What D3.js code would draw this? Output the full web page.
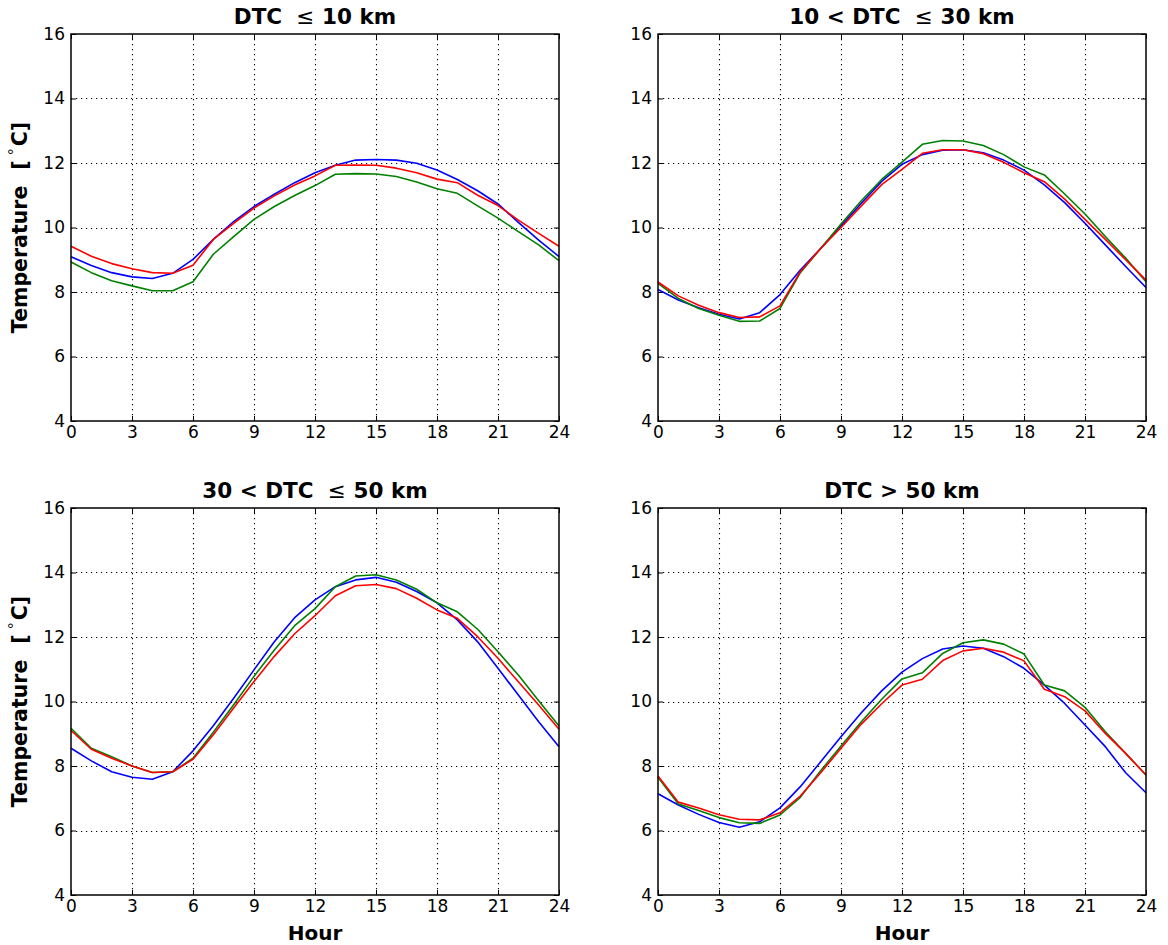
<!DOCTYPE html>
<html>
<head>
<meta charset="utf-8">
<script src="https://cdn.jsdelivr.net/npm/d3@7"></script>
<style>
  html, body { margin: 0; padding: 0; background: #ffffff; }
  svg { display: block; font-family: "DejaVu Sans", sans-serif; }
</style>
</head>
<body>
<svg id="chart" width="1168" height="945"></svg>
<script>
// Hourly mean temperature (°C) by distance to coast (DTC) class
const hours = d3.range(0, 25);
const xTicks = [0, 3, 6, 9, 12, 15, 18, 21, 24];
const yTicks = [4, 6, 8, 10, 12, 14, 16];

const panelTitles = [
  ["DTC", "≤", "10 km"],
  ["10 < DTC", "≤", "30 km"],
  ["30 < DTC", "≤", "50 km"],
  ["DTC > 50 km", "", ""]
];

// DTC <= 10 km
const p1Blue  = [9.09,8.82,8.60,8.47,8.42,8.58,9.01,9.63,10.18,10.65,11.03,11.39,11.70,11.93,12.09,12.11,12.09,11.99,11.78,11.49,11.14,10.73,10.16,9.61,9.10];
const p1Green = [8.93,8.60,8.35,8.19,8.04,8.04,8.32,9.17,9.72,10.25,10.65,10.99,11.30,11.65,11.67,11.66,11.58,11.41,11.20,11.06,10.67,10.29,9.87,9.46,8.97];
const p1Red   = [9.42,9.11,8.88,8.72,8.60,8.58,8.83,9.63,10.13,10.60,10.98,11.32,11.60,11.93,11.94,11.93,11.84,11.70,11.50,11.39,11.00,10.68,10.23,9.82,9.42];

// 10 < DTC <= 30 km
const p2Blue  = [8.08,7.75,7.51,7.31,7.16,7.36,7.92,8.68,9.35,10.05,10.75,11.43,11.96,12.26,12.40,12.41,12.32,12.09,11.78,11.32,10.77,10.13,9.46,8.79,8.14];
const p2Green = [8.27,7.80,7.49,7.28,7.09,7.10,7.49,8.60,9.35,10.11,10.83,11.49,12.03,12.58,12.70,12.68,12.54,12.26,11.88,11.63,11.04,10.42,9.72,9.05,8.32];
const p2Red   = [8.31,7.88,7.59,7.36,7.21,7.23,7.57,8.63,9.35,10.00,10.67,11.33,11.80,12.30,12.41,12.41,12.29,12.02,11.70,11.42,10.88,10.25,9.63,9.00,8.37];

// 30 < DTC <= 50 km
const p3Blue  = [8.55,8.16,7.82,7.65,7.59,7.82,8.47,9.25,10.10,10.98,11.85,12.60,13.15,13.56,13.77,13.85,13.70,13.41,13.06,12.53,11.85,11.03,10.20,9.37,8.60];
const p3Green = [9.17,8.55,8.29,8.00,7.80,7.82,8.24,9.05,9.90,10.78,11.60,12.35,12.88,13.56,13.89,13.93,13.77,13.48,13.06,12.78,12.24,11.54,10.82,10.02,9.24];
const p3Red   = [9.10,8.52,8.24,8.00,7.80,7.82,8.21,8.97,9.80,10.62,11.40,12.10,12.66,13.28,13.59,13.63,13.50,13.20,12.84,12.58,12.01,11.34,10.61,9.89,9.14];

// DTC > 50 km
const p4Blue  = [7.14,6.79,6.50,6.25,6.10,6.27,6.70,7.36,8.13,8.91,9.65,10.33,10.91,11.33,11.63,11.72,11.65,11.39,11.03,10.51,9.94,9.27,8.60,7.79,7.17];
const p4Green = [7.65,6.82,6.62,6.40,6.24,6.22,6.48,7.03,7.85,8.62,9.37,10.07,10.70,10.89,11.49,11.82,11.91,11.78,11.47,10.51,10.33,9.82,9.06,8.39,7.72];
const p4Red   = [7.69,6.88,6.70,6.49,6.35,6.33,6.55,7.07,7.79,8.55,9.30,9.93,10.51,10.69,11.27,11.57,11.65,11.53,11.26,10.38,10.15,9.71,9.01,8.39,7.72];

const seriesColors = ["#0000ff", "#008000", "#ff0000"];
const panelSeries = [
  [p1Blue, p1Green, p1Red],
  [p2Blue, p2Green, p2Red],
  [p3Blue, p3Green, p3Red],
  [p4Blue, p4Green, p4Red]
];

// Panel geometry
const plotW = 488, plotH = 387;
const origins = [[71, 34], [658, 34], [71, 508], [658, 508]];

const svg = d3.select("#chart");

panelSeries.forEach((series, i) => {
  const [ox, oy] = origins[i];
  const g = svg.append("g").attr("transform", `translate(${ox},${oy})`);

  const x = d3.scaleLinear().domain([0, 24]).range([0, plotW]);
  const y = d3.scaleLinear().domain([4, 16]).range([plotH, 0]);

  // dotted grid
  const grid = g.append("g").attr("class", "grid");
  grid.selectAll("line.gx").data(xTicks.slice(1, -1)).join("line")
    .attr("x1", d => Math.round(x(d)) + 0.5).attr("x2", d => Math.round(x(d)) + 0.5)
    .attr("y1", 0).attr("y2", plotH)
    .attr("stroke", "#000").attr("stroke-width", 1.1).attr("stroke-dasharray", "1.2,3.8");
  grid.selectAll("line.gy").data(yTicks.slice(1, -1)).join("line")
    .attr("y1", d => Math.round(y(d)) + 0.5).attr("y2", d => Math.round(y(d)) + 0.5)
    .attr("x1", 0).attr("x2", plotW)
    .attr("stroke", "#000").attr("stroke-width", 1.1).attr("stroke-dasharray", "1.2,3.8");

  // data lines
  const line = d3.line().x((d, j) => x(hours[j])).y(d => y(d));
  series.forEach((vals, k) => {
    g.append("path").datum(vals)
      .attr("fill", "none")
      .attr("stroke", seriesColors[k])
      .attr("stroke-width", 1.6)
      .attr("stroke-linejoin", "round")
      .attr("d", line);
  });

  // axes with inward ticks
  const tickLen = 5;
  const axB = g.append("g").attr("transform", `translate(0,${plotH})`)
    .call(d3.axisBottom(x).tickValues(xTicks).tickSizeInner(-tickLen).tickSizeOuter(0).tickPadding(tickLen + 4));
  const axT = g.append("g")
    .call(d3.axisTop(x).tickValues(xTicks).tickSizeInner(-tickLen).tickSizeOuter(0).tickFormat(""));
  const axL = g.append("g")
    .call(d3.axisLeft(y).tickValues(yTicks).tickSizeInner(-tickLen).tickSizeOuter(0).tickPadding(tickLen + 5));
  const axR = g.append("g").attr("transform", `translate(${plotW},0)`)
    .call(d3.axisRight(y).tickValues(yTicks).tickSizeInner(-tickLen).tickSizeOuter(0).tickFormat(""));

  [axB, axT, axL, axR].forEach(a => {
    a.select(".domain").remove();
    a.selectAll(".tick line").attr("stroke", "#000").attr("stroke-width", 1);
    a.selectAll(".tick text").attr("font-family", "DejaVu Sans, sans-serif")
      .attr("font-size", 17).attr("fill", "#000");
  });
  axB.selectAll(".tick text").attr("dy", "0.75em").attr("y", 4);
  axL.selectAll(".tick text").attr("x", -6);

  // frame
  g.append("rect").attr("x", 0).attr("y", 0).attr("width", plotW).attr("height", plotH)
    .attr("fill", "none").attr("stroke", "#000").attr("stroke-width", 1.5);

  // title
  const t = panelTitles[i];
  const title = g.append("text")
    .attr("x", plotW / 2).attr("y", -10)
    .attr("text-anchor", "middle")
    .attr("font-size", 21.5).attr("font-weight", "bold").attr("fill", "#000");
  title.append("tspan").text(t[0]);
  if (t[1]) {
    title.append("tspan").text(t[1]).attr("font-weight", "normal").attr("dx", 14);
    title.append("tspan").text(t[2]).attr("dx", 8);
  }

  // y-axis label on left column
  if (i % 2 === 0) {
    const yl = g.append("text")
      .attr("transform", `translate(${-44},${plotH / 2}) rotate(-90)`)
      .attr("text-anchor", "middle")
      .attr("font-size", 20.5).attr("fill", "#000");
    yl.append("tspan").text("Temperature").attr("font-weight", "bold");
    yl.append("tspan").text("[").attr("font-weight", "bold").attr("dx", 16);
    yl.append("tspan").text("°").attr("font-size", 14).attr("dx", 5).attr("dy", -8);
    yl.append("tspan").text("C]").attr("font-weight", "bold").attr("dx", 2).attr("dy", 8);
  }

  // x-axis label on bottom row
  if (i >= 2) {
    g.append("text")
      .attr("x", plotW / 2).attr("y", plotH + 45)
      .attr("text-anchor", "middle")
      .attr("font-size", 20).attr("font-weight", "bold").attr("fill", "#000")
      .text("Hour");
  }
});
</script>
</body>
</html>
